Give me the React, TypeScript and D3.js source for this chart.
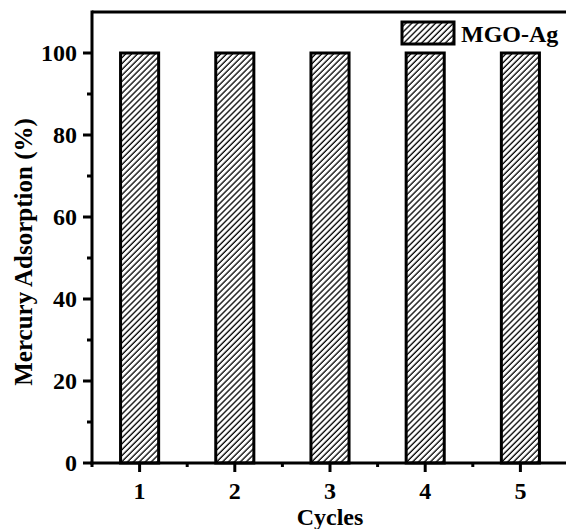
import React from "react";
import * as d3 from "d3";

const categories = [1, 2, 3, 4, 5];
const adsorption = [100, 100, 100, 100, 100];
const yTicks = [0, 20, 40, 60, 80, 100];
const yMinorTicks = [10, 30, 50, 70, 90];
const xMinorTicks = [0.5, 1.5, 2.5, 3.5, 4.5];
const seriesName = "MGO-Ag";
const xTitle = "Cycles";
const yTitle = "Mercury Adsorption (%)";

const W = 566;
const H = 529;
const left = 92;
const top = 12;
const bottom = 463;
const right = 568;
const font = "'Liberation Serif', 'Times New Roman', serif";

export default function App() {
  const x = d3.scaleLinear().domain([0.5, 5.5]).range([left, right]);
  const y = d3.scaleLinear().domain([0, 110]).range([bottom, top]);
  const barW = x(1.4) - x(1);

  return (
    <svg width={W} height={H} style={{ position: "absolute", left: 0, top: 0, background: "#fff" }}>
      <defs>
        <pattern id="hatch" patternUnits="userSpaceOnUse" width={4.2} height={10} patternTransform="rotate(45)">
          <line x1={1} y1={0} x2={1} y2={10} stroke="#000" strokeWidth={1.3} />
        </pattern>
      </defs>
      {categories.map((c, i) => (
        <rect
          key={c}
          x={x(c) - barW / 2}
          y={y(adsorption[i])}
          width={barW}
          height={y(0) - y(adsorption[i])}
          fill="url(#hatch)"
          stroke="#000"
          strokeWidth={3}
        />
      ))}
      {/* frame */}
      <line x1={left} x2={W + 5} y1={top} y2={top} stroke="#000" strokeWidth={3} />
      <line x1={left} x2={left} y1={top - 1.5} y2={bottom + 1.5} stroke="#000" strokeWidth={3} />
      <line x1={left - 1.5} x2={W + 5} y1={bottom} y2={bottom} stroke="#000" strokeWidth={3} />
      {/* y ticks */}
      {yTicks.map((t) => (
        <g key={"y" + t}>
          <line x1={left - 9} x2={left} y1={y(t)} y2={y(t)} stroke="#000" strokeWidth={3} />
          <text x={left - 15} y={y(t)} dy="0.35em" textAnchor="end" fontFamily={font} fontWeight="bold" fontSize={24}>
            {t}
          </text>
        </g>
      ))}
      {yMinorTicks.map((t) => (
        <line key={"ym" + t} x1={left - 5} x2={left} y1={y(t)} y2={y(t)} stroke="#000" strokeWidth={3} />
      ))}
      {/* x ticks */}
      {categories.map((c) => (
        <g key={"x" + c}>
          <line x1={x(c)} x2={x(c)} y1={bottom} y2={bottom + 9} stroke="#000" strokeWidth={3} />
          <text x={x(c)} y={499} textAnchor="middle" fontFamily={font} fontWeight="bold" fontSize={24}>
            {c}
          </text>
        </g>
      ))}
      {xMinorTicks.map((t) => (
        <line key={"xm" + t} x1={x(t)} x2={x(t)} y1={bottom} y2={bottom + 4} stroke="#000" strokeWidth={3} />
      ))}
      {/* axis titles */}
      <text x={x(3)} y={525} textAnchor="middle" fontFamily={font} fontWeight="bold" fontSize={24}>
        {xTitle}
      </text>
      <text
        transform={`translate(32, 252) rotate(-90)`}
        textAnchor="middle"
        fontFamily={font}
        fontWeight="bold"
        fontSize={25}
      >
        {yTitle}
      </text>
      {/* legend */}
      <rect x={402} y={22} width={52} height={22} fill="url(#hatch)" stroke="#000" strokeWidth={3} />
      <text x={461} y={42} fontFamily={font} fontWeight="bold" fontSize={24}>
        {seriesName}
      </text>
    </svg>
  );
}
